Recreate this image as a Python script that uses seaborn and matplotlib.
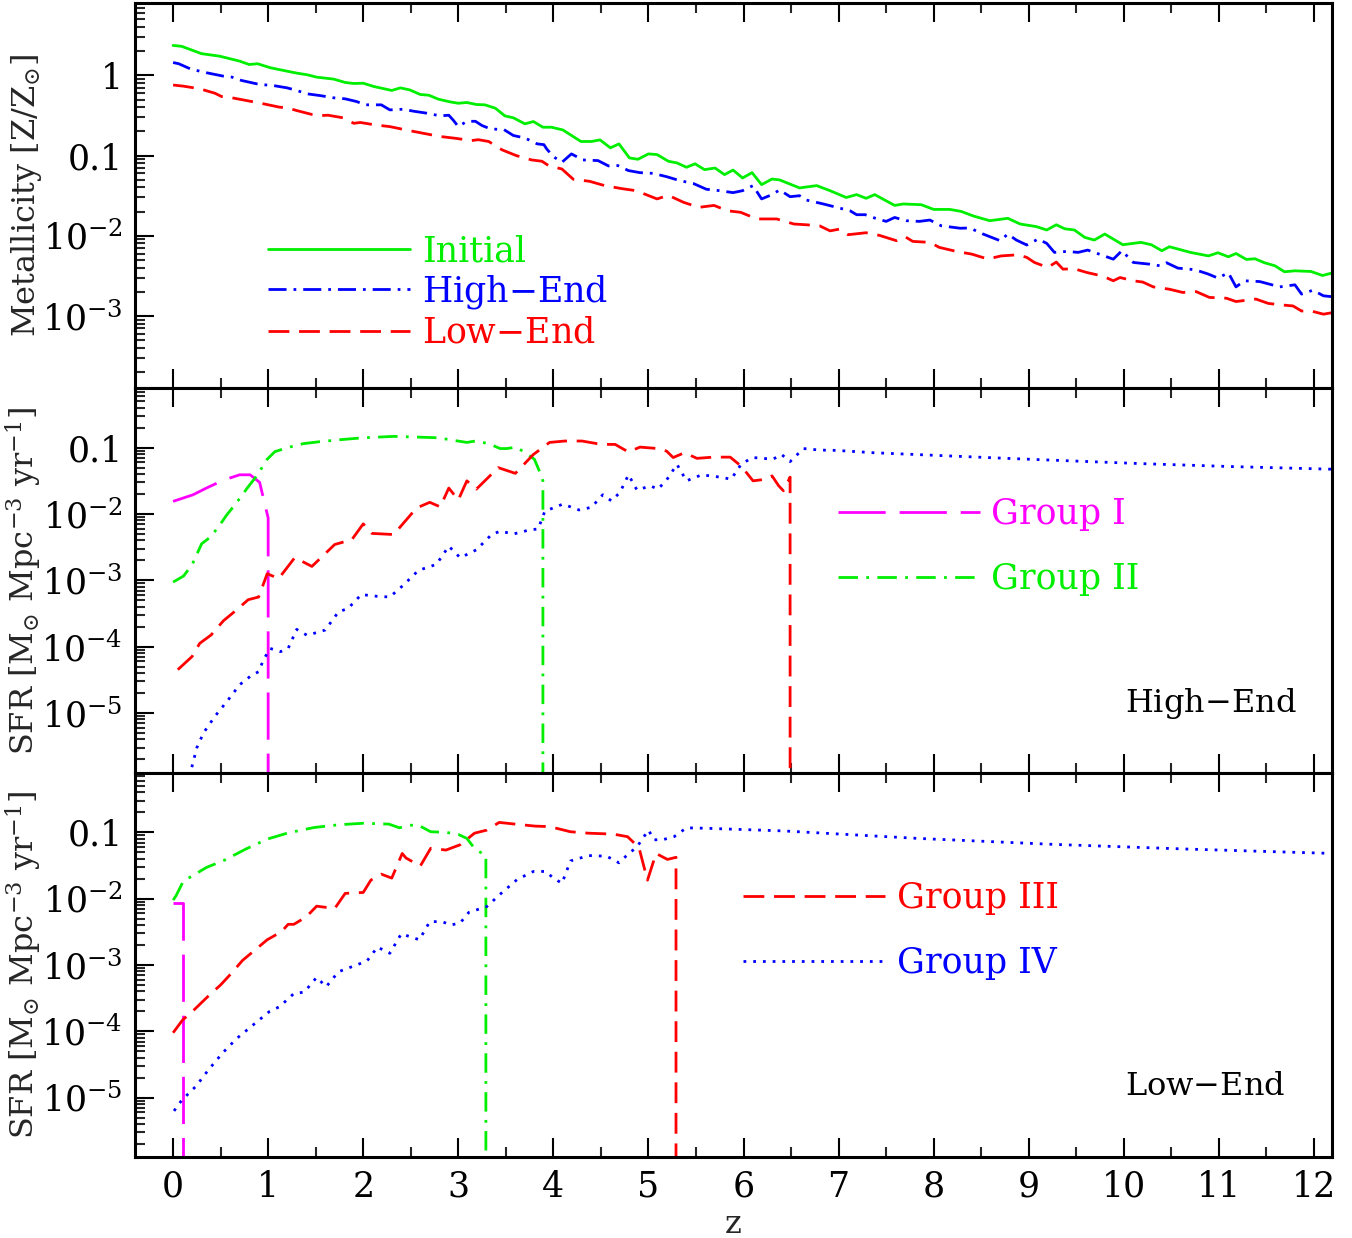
import numpy as np
import pandas as pd
import matplotlib
matplotlib.use("Agg")
import matplotlib.pyplot as plt
import seaborn as sns
from matplotlib.ticker import FixedLocator, LogLocator, MultipleLocator, FuncFormatter, NullFormatter

# ---------------- data (z, value) ----------------
Z_TICKS = list(range(0, 13))

met_initial = [(0.0,2.37),(0.09,2.31),(0.3,1.87),(0.49,1.74),(0.7,1.51),(0.8,1.37),(0.89,1.40),(1.02,1.25),(1.2,1.13),
    (1.3,1.07),(1.41,1.02),(1.51,0.953),(1.69,0.90),(1.81,0.818),(1.9,0.794),(2.0,0.80),(2.11,0.729),(2.3,0.65),
    (2.39,0.70),(2.49,0.66),(2.6,0.579),(2.69,0.567),(2.79,0.506),(2.91,0.469),(3.0,0.45),(3.09,0.46),(3.19,0.434),
    (3.28,0.43),(3.39,0.39),(3.49,0.313),(3.58,0.296),(3.7,0.249),(3.79,0.266),(3.89,0.226),(3.98,0.226),(4.1,0.209),
    (4.29,0.150),(4.4,0.150),(4.49,0.157),(4.6,0.125),(4.69,0.140),(4.8,0.0935),(4.89,0.090),(5.0,0.105),(5.09,0.103),
    (5.21,0.085),(5.3,0.081),(5.4,0.0715),(5.49,0.079),(5.59,0.0668),(5.7,0.070),(5.8,0.0579),(5.89,0.066),(5.99,0.0526),
    (6.09,0.0613),(6.19,0.0434),(6.3,0.051),(6.38,0.0497),(6.59,0.0395),(6.77,0.0422),(6.91,0.0365),(7.08,0.030),
    (7.19,0.0326),(7.29,0.0293),(7.38,0.0326),(7.59,0.0239),(7.68,0.0249),(7.87,0.0244),(8.0,0.0213),(8.17,0.0213),
    (8.29,0.0201),(8.42,0.0176),(8.59,0.0154),(8.78,0.0165),(8.91,0.014),(9.08,0.013),(9.19,0.0118),(9.29,0.0137),
    (9.38,0.0122),(9.48,0.0118),(9.59,0.00953),(9.69,0.00883),(9.8,0.0105),(9.99,0.00772),(10.18,0.00826),(10.29,0.00772),
    (10.4,0.0065),(10.48,0.00729),(10.7,0.0062),(10.89,0.0056),(10.99,0.00613),(11.1,0.00546),(11.18,0.0060),(11.29,0.00506),
    (11.38,0.00516),(11.48,0.0046),(11.59,0.00422),(11.69,0.00355),(11.8,0.00365),(11.97,0.00358),(12.09,0.00319),(12.2,0.00345)]

met_high = [(0.0,1.45),(0.06,1.40),(0.18,1.21),(0.32,1.10),(0.53,0.98),(0.62,0.953),(0.72,0.866),(0.91,0.772),(1.05,0.75),
    (1.2,0.70),(1.3,0.65),(1.41,0.59),(1.55,0.56),(1.69,0.526),(1.81,0.511),(1.93,0.473),(2.02,0.43),(2.19,0.43),(2.28,0.372),
    (2.42,0.379),(2.53,0.358),(2.67,0.338),(2.81,0.313),(2.9,0.319),(2.95,0.274),(3.0,0.23),(3.09,0.268),(3.18,0.268),
    (3.25,0.237),(3.34,0.215),(3.48,0.211),(3.58,0.178),(3.7,0.166),(3.83,0.14),(3.9,0.137),(3.93,0.121),(4.0,0.097),
    (4.09,0.0826),(4.19,0.105),(4.31,0.0883),(4.47,0.0866),(4.58,0.0743),(4.68,0.075),(4.79,0.065),(4.91,0.0613),(5.05,0.060),
    (5.19,0.0546),(5.33,0.0487),(5.47,0.045),(5.61,0.038),(5.75,0.0365),(5.89,0.0345),(5.99,0.0365),(6.1,0.0422),(6.19,0.0288),
    (6.3,0.0326),(6.38,0.0373),(6.49,0.0307),(6.59,0.0316),(6.66,0.0279),(6.84,0.0249),(6.98,0.0226),(7.12,0.0205),(7.19,0.0183),
    (7.28,0.0183),(7.36,0.0169),(7.5,0.0151),(7.59,0.0169),(7.71,0.0154),(7.85,0.0151),(7.96,0.0157),(8.08,0.0133),(8.28,0.0124),
    (8.38,0.0125),(8.52,0.0105),(8.7,0.00866),(8.78,0.0105),(8.87,0.00883),(8.98,0.00766),(9.1,0.0091),(9.19,0.00802),(9.27,0.0062),
    (9.4,0.00637),(9.52,0.0062),(9.62,0.00662),(9.76,0.00579),(9.89,0.0051),(9.98,0.0065),(10.1,0.00464),(10.27,0.00442),
    (10.38,0.00422),(10.45,0.0046),(10.57,0.00394),(10.69,0.00383),(10.76,0.00373),(10.89,0.00332),(10.99,0.00296),(11.1,0.00345),
    (11.18,0.0023),(11.27,0.00274),(11.43,0.00268),(11.64,0.0023),(11.8,0.00244),(11.87,0.00187),(11.99,0.00209),(12.1,0.00178),
    (12.2,0.00173)]

met_low = [(0.0,0.76),(0.11,0.735),(0.28,0.682),(0.44,0.60),(0.51,0.546),(0.62,0.526),(0.77,0.487),(0.95,0.443),(1.12,0.402),
    (1.2,0.395),(1.3,0.365),(1.46,0.326),(1.55,0.316),(1.63,0.319),(1.79,0.296),(1.9,0.253),(1.97,0.259),(2.12,0.242),(2.28,0.23),
    (2.45,0.209),(2.63,0.19),(2.81,0.173),(2.96,0.165),(3.14,0.154),(3.21,0.158),(3.32,0.15),(3.46,0.118),(3.61,0.10),(3.77,0.0883),
    (3.88,0.085),(3.95,0.075),(4.09,0.068),(4.21,0.0506),(4.38,0.0478),(4.54,0.0422),(4.72,0.0387),(4.87,0.0365),(5.09,0.0288),
    (5.21,0.0319),(5.37,0.0261),(5.53,0.0226),(5.69,0.0239),(5.83,0.0205),(5.97,0.0196),(6.14,0.0162),(6.35,0.0162),(6.53,0.014),
    (6.66,0.0137),(6.8,0.0133),(6.91,0.0115),(7.01,0.0121),(7.1,0.0103),(7.29,0.0109),(7.43,0.0101),(7.61,0.00866),(7.7,0.00972),
    (7.78,0.0085),(7.96,0.00826),(8.06,0.00715),(8.24,0.00637),(8.4,0.0059),(8.57,0.00512),(8.71,0.0056),(8.89,0.00579),
    (8.98,0.00536),(9.06,0.00464),(9.2,0.00402),(9.29,0.00469),(9.36,0.00383),(9.48,0.00387),(9.61,0.00348),(9.78,0.00313),
    (9.89,0.00274),(9.96,0.00301),(10.1,0.00274),(10.2,0.00264),(10.31,0.0023),(10.48,0.00215),(10.62,0.00196),(10.76,0.00201),
    (10.9,0.0017),(11.08,0.00166),(11.18,0.00151),(11.39,0.00162),(11.52,0.00143),(11.66,0.00137),(11.78,0.00133),(11.87,0.00115),
    (11.97,0.00115),(12.1,0.00105),(12.2,0.0011)]

# SFR, High-End model (1e-9 marks a zero rate, below the axis)
sfr_high_g1 = [(0.0,0.0155),(0.21,0.0195),(0.35,0.0246),(0.53,0.0324),(0.7,0.039),(0.81,0.039),(0.91,0.030),(1.0,0.0087),(1.0,1e-9)]
sfr_high_g2 = [(0.0,9.4e-4),(0.11,1.16e-3),(0.2,1.72e-3),(0.3,3.55e-3),(0.39,4.47e-3),(0.48,6.45e-3),(0.56,9.5e-3),(0.67,0.015),
    (0.78,0.0246),(0.88,0.0376),(0.99,0.067),(1.07,0.087),(1.2,0.1),(1.37,0.115),(1.54,0.123),(1.76,0.132),(2.0,0.141),(2.32,0.148),
    (2.53,0.145),(2.79,0.141),(2.95,0.129),(3.09,0.12),(3.18,0.126),(3.32,0.115),(3.44,0.097),(3.51,0.097),(3.61,0.102),(3.72,0.081),
    (3.8,0.067),(3.86,0.042),(3.89,0.0316),(3.89,1e-9)]
sfr_high_g3 = [(0.05,4.5e-5),(0.2,7.1e-5),(0.28,1.12e-4),(0.4,1.5e-4),(0.53,2.46e-4),(0.67,3.6e-4),(0.79,5.1e-4),(0.9,5.6e-4),
    (0.99,1.26e-3),(1.11,1.06e-3),(1.28,2.2e-3),(1.46,1.62e-3),(1.7,3.47e-3),(1.88,4.1e-3),(2.0,7.1e-3),(2.09,5.1e-3),(2.32,4.9e-3),
    (2.56,0.0123),(2.7,0.015),(2.81,0.0128),(2.9,0.0246),(3.0,0.0163),(3.09,0.0316),(3.19,0.0237),(3.42,0.05),(3.6,0.041),
    (3.79,0.079),(3.96,0.12),(4.12,0.126),(4.3,0.126),(4.46,0.115),(4.58,0.112),(4.65,0.112),(4.79,0.086),(4.91,0.102),(5.1,0.097),
    (5.19,0.089),(5.26,0.071),(5.38,0.084),(5.51,0.069),(5.68,0.072),(5.86,0.072),(5.98,0.052),(6.1,0.0316),(6.24,0.0335),
    (6.3,0.0376),(6.37,0.0266),(6.42,0.0224),(6.49,0.036),(6.49,1e-9)]
sfr_high_g4 = [(0.17,1.1e-6),(0.2,1.58e-6),(0.25,3.0e-6),(0.32,5.0e-6),(0.44,8.9e-6),(0.58,1.58e-5),(0.7,2.66e-5),(0.81,3.55e-5),
    (0.9,4.2e-5),(0.95,6.3e-5),(1.02,9.4e-5),(1.13,8.4e-5),(1.21,9.4e-5),(1.3,1.82e-4),(1.41,1.48e-4),(1.6,1.78e-4),(1.74,3.35e-4),
    (1.84,3.76e-4),(1.98,6.1e-4),(2.14,5.75e-4),(2.28,5.6e-4),(2.42,8.4e-4),(2.58,1.41e-3),(2.77,1.74e-3),(2.9,3.27e-3),
    (3.02,2.19e-3),(3.19,2.88e-3),(3.35,4.9e-3),(3.44,5.5e-3),(3.58,5.0e-3),(3.75,5.75e-3),(3.84,5.95e-3),(3.91,0.011),(4.1,0.0141),
    (4.27,0.0115),(4.4,0.0126),(4.52,0.0195),(4.61,0.0158),(4.7,0.0211),(4.79,0.039),(4.88,0.0229),(5.02,0.0266),(5.1,0.0237),
    (5.19,0.0324),(5.3,0.056),(5.4,0.0316),(5.56,0.039),(5.75,0.036),(5.87,0.0335),(5.98,0.0575),(6.1,0.071),(6.31,0.067),
    (6.4,0.079),(6.49,0.0617),(6.63,0.097),(6.8,0.092),(6.98,0.091),(7.36,0.084),(8.77,0.069),(10.18,0.0575),(11.11,0.052),
    (12.2,0.0473)]

# SFR, Low-End model
sfr_low_g1 = [(0.0,0.0085),(0.1,0.0085),(0.1,1e-9)]
sfr_low_g2 = [(0.0,0.0095),(0.03,0.011),(0.11,0.0186),(0.2,0.0219),(0.35,0.0295),(0.54,0.038),(0.76,0.0555),(0.99,0.079),
    (1.21,0.098),(1.48,0.118),(1.74,0.13),(2.0,0.137),(2.27,0.133),(2.38,0.117),(2.49,0.128),(2.58,0.128),(2.71,0.102),(2.87,0.1),
    (3.0,0.093),(3.09,0.081),(3.17,0.0575),(3.26,0.047),(3.29,0.045),(3.29,1e-9)]
sfr_low_g3 = [(0.0,9.5e-5),(0.1,1.48e-4),(0.2,1.97e-4),(0.37,3.39e-4),(0.5,5.0e-4),(0.61,7.4e-4),(0.73,1.17e-3),(0.88,1.77e-3),
    (0.99,2.4e-3),(1.14,3.17e-3),(1.21,4.1e-3),(1.27,4.1e-3),(1.4,5.3e-3),(1.51,7.7e-3),(1.7,7.1e-3),(1.81,0.012),(2.0,0.0124),
    (2.08,0.019),(2.19,0.0234),(2.3,0.0204),(2.41,0.048),(2.45,0.041),(2.6,0.031),(2.71,0.0575),(2.87,0.054),(3.02,0.065),
    (3.17,0.097),(3.3,0.108),(3.43,0.141),(3.62,0.132),(3.81,0.124),(3.96,0.122),(4.18,0.102),(4.37,0.097),(4.63,0.094),
    (4.78,0.086),(4.9,0.059),(4.99,0.019),(5.08,0.048),(5.2,0.039),(5.29,0.042),(5.29,1e-9)]
sfr_low_g4 = [(0.01,6.3e-6),(0.09,9.1e-6),(0.24,1.48e-5),(0.37,2.6e-5),(0.52,4.7e-5),(0.67,7.8e-5),(0.84,1.24e-4),(1.01,1.97e-4),
    (1.12,2.35e-4),(1.27,3.7e-4),(1.38,3.9e-4),(1.51,6.5e-4),(1.61,4.7e-4),(1.74,7.9e-4),(1.93,1.0e-3),(2.04,1.15e-3),(2.15,1.86e-3),
    (2.28,1.5e-3),(2.4,2.95e-3),(2.59,2.4e-3),(2.7,4.5e-3),(2.83,4.5e-3),(2.92,4.0e-3),(3.02,4.3e-3),(3.11,6.2e-3),(3.3,7.6e-3),
    (3.45,0.012),(3.62,0.0195),(3.79,0.0257),(3.92,0.0257),(3.99,0.021),(4.09,0.017),(4.18,0.037),(4.37,0.0446),(4.56,0.0437),
    (4.69,0.0347),(4.78,0.046),(4.88,0.0605),(5.0,0.108),(5.06,0.077),(5.16,0.078),(5.27,0.086),(5.4,0.117),(5.61,0.115),
    (6.42,0.105),(7.83,0.081),(9.24,0.066),(10.65,0.056),(12.2,0.048)]

MET_TICKS = [1e-3, 1e-2, 0.1, 1]
SFR_TICKS = [1e-5, 1e-4, 1e-3, 1e-2, 0.1]

# ---------------- styles ----------------
GREEN, BLUE, RED, MAG = "#00ee00", "#0000ff", "#ff0000", "#ff00ff"
LS_DASH = (0, (15, 7))
LS_DOTDASH = (0, (13, 5, 2, 5))
LS_LONG = (0, (34, 10))
LS_DOT = (0, (2, 5))
LS_G2 = (0, (14, 6, 2, 6))
LW = 2.0
FS = 23      # axis labels, panel tags
FS_TICK = 25
FS_LEG = 25

sns.set_theme(style="ticks")
plt.rcParams["font.family"] = ["DejaVu Serif"]
plt.rcParams["mathtext.fontset"] = "dejavuserif"
plt.rcParams["lines.scale_dashes"] = False

fig, axes = plt.subplots(3, 1, figsize=(13.52, 12.38), dpi=100, sharex=True)
fig.subplots_adjust(left=0.0999, right=0.9852, top=0.9973, bottom=0.0652, hspace=0)


def draw(ax, pairs, color, ls, label=None):
    df = pd.DataFrame(pairs, columns=["z", "v"])
    kw = dict(color=color, linestyle=ls, linewidth=LW)
    if label is not None:
        kw["label"] = label
    sns.lineplot(data=df, x="z", y="v", ax=ax, estimator=None, sort=False, **kw)


def fmt(v, pos):
    e = int(round(np.log10(v)))
    if e == 0:
        return "1"
    if e == -1:
        return "0.1"
    return r"$10^{%d}$" % e


ax0, ax1, ax2 = axes
draw(ax0, met_initial, GREEN, "-", "Initial")
draw(ax0, met_high, BLUE, LS_DOTDASH, "High$-$End")
draw(ax0, met_low, RED, LS_DASH, "Low$-$End")

draw(ax1, sfr_high_g1, MAG, LS_LONG, "Group I")
draw(ax1, sfr_high_g2, GREEN, LS_G2, "Group II")
draw(ax1, sfr_high_g3, RED, LS_DASH)
draw(ax1, sfr_high_g4, BLUE, LS_DOT)

draw(ax2, sfr_low_g1, MAG, LS_LONG)
draw(ax2, sfr_low_g2, GREEN, LS_G2)
draw(ax2, sfr_low_g3, RED, LS_DASH, "Group III")
draw(ax2, sfr_low_g4, BLUE, LS_DOT, "Group IV")

for i, ax in enumerate(axes):
    ax.set_yscale("log")
    ax.set_xlim(-0.4, 12.19)
    if i == 0:
        ax.set_ylim(10 ** -3.9, 10 ** 0.9)
        ax.yaxis.set_major_locator(FixedLocator(MET_TICKS))
    else:
        ax.set_ylim(10 ** -5.9, 10 ** -0.1)
        ax.yaxis.set_major_locator(FixedLocator(SFR_TICKS))
    ax.yaxis.set_major_formatter(FuncFormatter(fmt))
    ax.yaxis.set_minor_locator(LogLocator(base=10, subs=np.arange(2, 10), numticks=20))
    ax.yaxis.set_minor_formatter(NullFormatter())
    ax.xaxis.set_major_locator(FixedLocator(Z_TICKS))
    ax.xaxis.set_minor_locator(MultipleLocator(0.5))
    ax.tick_params(axis="both", which="major", direction="in", length=14, width=1.5,
                   top=True, bottom=True, left=True, right=False, labelsize=FS_TICK, pad=9, colors="black")
    ax.tick_params(axis="both", which="minor", direction="in", length=7, width=1.5,
                   top=True, bottom=True, left=True, right=False)
    for s in ax.spines.values():
        s.set_linewidth(2.2)
        s.set_color("black")
    ax.grid(False)
    ax.set_xlabel("")
    ax.yaxis.set_label_coords(-0.076, 0.5)

ax0.set_ylabel(r"Metallicity [Z/Z$_{\odot}$]", fontsize=FS)
ax1.set_ylabel(r"SFR [M$_{\odot}$ Mpc$^{-3}$ yr$^{-1}$]", fontsize=FS)
ax2.set_ylabel(r"SFR [M$_{\odot}$ Mpc$^{-3}$ yr$^{-1}$]", fontsize=FS)
ax2.set_xlabel("z", fontsize=FS, labelpad=4)

leg_kw = dict(loc="upper left", frameon=False, fontsize=FS_LEG, handlelength=4.1, handletextpad=0.33,
              borderpad=0, borderaxespad=0, labelcolor="linecolor")
ax0.legend(bbox_to_anchor=(0.111, 0.400), labelspacing=0.14, **leg_kw)
ax1.legend(bbox_to_anchor=(0.587, 0.716), labelspacing=0.89, **leg_kw)
ax2.legend(bbox_to_anchor=(0.508, 0.717), labelspacing=0.89, **leg_kw)

ax1.text(0.827, 0.18, "High$-$End", transform=ax1.transAxes, fontsize=FS, va="center", ha="left", color="black")
ax2.text(0.827, 0.183, "Low$-$End", transform=ax2.transAxes, fontsize=FS, va="center", ha="left", color="black")

fig.savefig("out.png", dpi=100)
